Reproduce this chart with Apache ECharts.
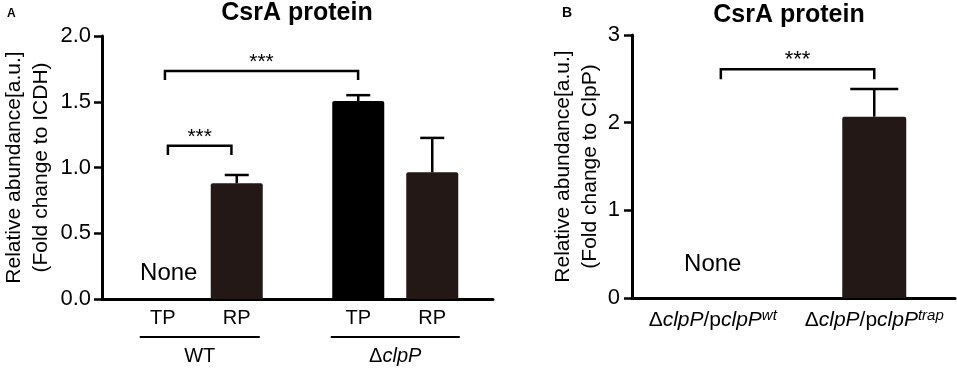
<!DOCTYPE html>
<html>
<head>
<meta charset="utf-8">
<title>CsrA protein</title>
<script src="https://cdn.jsdelivr.net/npm/echarts@6/dist/echarts.min.js"></script>
<style>
  html, body { margin: 0; padding: 0; background: #fff; }
  #chart { width: 957px; height: 369px; }
</style>
</head>
<body>
<div id="chart"></div>
<script>
// Panel A: CsrA relative to ICDH, trap pulldown (TP) vs regular pulldown (RP)
const groupsA = ['WT', 'ΔclpP'];
const tpMeanA = [0, 1.505];
const tpErrA = [0, 0.045];
const rpMeanA = [0.88, 0.963];
const rpErrA = [0.063, 0.262];
const yTicksA = [0, 0.5, 1.0, 1.5, 2.0];

// Panel B: CsrA relative to ClpP
const allelesB = ['wt', 'trap'];
const meanB = [0, 2.068];
const errB = [0, 0.316];
const yTicksB = [0, 1, 2, 3];

// significance brackets: [fromCat, fromShift, toCat, toShift, barY, legY, label]
// shift = fraction of the category band
const bracketsA = [
  [0, -0.178, 1, -0.19, 1.734, 1.665, '***'],
  [0, -0.163, 0, 0.162, 1.166, 1.095, '***']
];
const bracketsB = [
  [0, 0.05, 1, 0, 2.608, 2.494, '***']
];

const FONT = '"Liberation Sans", Arial, Helvetica, sans-serif';
const INK = '#000';
const BROWN = '#231815';

const barWA = 52, gapA = 22;           // bar width / gap between TP and RP (px)
const shiftA = (barWA + gapA) / 2;     // bar center offset from category center
const barWB = 64;

const chart = echarts.init(document.getElementById('chart'));

function errorSeries(idx, means, errs, shift, capW) {
  return {
    type: 'custom',
    xAxisIndex: idx,
    yAxisIndex: idx,
    silent: true,
    z: 4,
    data: means.map((m, i) => [i, m, errs[i]]),
    renderItem: function (params, api) {
      const err = api.value(2);
      if (!err) return { type: 'group', children: [] };
      const base = api.coord([api.value(0), api.value(1)]);
      const top = api.coord([api.value(0), api.value(1) + err]);
      const x = base[0] + shift;
      const st = { stroke: INK, lineWidth: 2.5 };
      return {
        type: 'group',
        children: [
          { type: 'line', shape: { x1: x, y1: base[1], x2: x, y2: top[1] }, style: st },
          { type: 'line', shape: { x1: x - capW / 2, y1: top[1], x2: x + capW / 2, y2: top[1] }, style: st }
        ]
      };
    }
  };
}

function bracketSeries(idx, rows, starSize) {
  return {
    type: 'custom',
    xAxisIndex: idx,
    yAxisIndex: idx,
    silent: true,
    clip: false,
    z: 5,
    data: rows.map(r => r.slice(0, 6)),
    renderItem: function (params, api) {
      const band = api.size([1, 0])[0];
      const x1 = api.coord([api.value(0), 0])[0] + api.value(1) * band;
      const x2 = api.coord([api.value(2), 0])[0] + api.value(3) * band;
      const yTop = api.coord([0, api.value(4)])[1];
      const yLeg = api.coord([0, api.value(5)])[1];
      return {
        type: 'group',
        children: [
          {
            type: 'polyline',
            shape: { points: [[x1, yLeg], [x1, yTop], [x2, yTop], [x2, yLeg]] },
            style: { stroke: INK, lineWidth: 2.5, fill: null }
          },
          {
            type: 'text',
            x: (x1 + x2) / 2,
            y: yTop + 2,
            style: {
              text: rows[params.dataIndex][6],
              fill: INK,
              font: starSize + 'px ' + FONT,
              align: 'center',
              verticalAlign: 'bottom'
            }
          }
        ]
      };
    }
  };
}

function valueAxis(idx, ticks, name, gap, margin, fmt) {
  return {
    type: 'value',
    gridIndex: idx,
    min: ticks[0],
    max: ticks[ticks.length - 1],
    interval: ticks[1] - ticks[0],
    name: name,
    nameLocation: 'middle',
    nameGap: gap,
    nameTextStyle: { fontSize: 21, lineHeight: 27, color: INK, fontFamily: FONT },
    axisLine: { show: true, lineStyle: { color: INK, width: 3 } },
    axisTick: { show: true, length: 8, lineStyle: { color: INK, width: 2.5 } },
    axisLabel: { fontSize: 22, margin: margin, color: INK, fontFamily: FONT, formatter: fmt },
    splitLine: { show: false }
  };
}

const txt = { color: INK, fontFamily: FONT, align: 'center' };

const option = {
  animation: false,
  backgroundColor: '#fff',
  textStyle: { fontFamily: FONT },
  title: [
    { text: 'CsrA protein', left: 297, top: 1, textAlign: 'center', padding: 0,
      textStyle: { fontSize: 25, fontWeight: 'bold', color: INK, fontFamily: FONT } },
    { text: 'CsrA protein', left: 789, top: 3, textAlign: 'center', padding: 0,
      textStyle: { fontSize: 25, fontWeight: 'bold', color: INK, fontFamily: FONT } }
  ],
  graphic: [
    { type: 'text', left: 7, top: 8, style: { text: 'A', font: 'bold 12px ' + FONT, fill: INK } },
    { type: 'text', left: 562, top: 6, style: { text: 'B', font: 'bold 14px ' + FONT, fill: INK } }
  ],
  grid: [
    { left: 99, top: 36, width: 394, height: 263 },
    { left: 632, top: 35, width: 323, height: 263 }
  ],
  xAxis: [
    {
      type: 'category',
      gridIndex: 0,
      data: groupsA,
      axisLine: { lineStyle: { color: INK, width: 3 } },
      axisTick: { alignWithLabel: true, length: 6, lineStyle: { color: INK, width: 2.5 } },
      axisLabel: {
        interval: 0,
        margin: 8,
        formatter: function (v) {
          const grp = v === 'WT' ? '{g|WT}' : '{g|Δ}{gi|clpP}';
          return '{t|TP}{t|RP}\n{' + (v === 'WT' ? 'lw' : 'lc') + '| }\n' + grp;
        },
        rich: {
          t: Object.assign({ width: shiftA * 2, fontSize: 20, lineHeight: 22 }, txt),
          lw: { width: 120, height: 2, lineHeight: 16, fontSize: 2, backgroundColor: INK, align: 'center' },
          lc: { width: 129, height: 2, lineHeight: 16, fontSize: 2, backgroundColor: INK, align: 'center' },
          g: Object.assign({ fontSize: 20, lineHeight: 22 }, txt),
          gi: Object.assign({ fontSize: 20, lineHeight: 22, fontStyle: 'italic' }, txt)
        }
      }
    },
    {
      type: 'category',
      gridIndex: 1,
      data: allelesB,
      axisLine: { lineStyle: { color: INK, width: 3 } },
      axisTick: { alignWithLabel: true, length: 6, lineStyle: { color: INK, width: 2.5 } },
      axisLabel: {
        interval: 0,
        margin: 10,
        formatter: v => '{n|Δ}{i|clpP}{n|/p}{i|clpP}{s|' + v + '}',
        rich: {
          n: Object.assign({ fontSize: 21, lineHeight: 24 }, txt),
          i: Object.assign({ fontSize: 21, lineHeight: 24, fontStyle: 'italic' }, txt),
          s: Object.assign({ fontSize: 15, lineHeight: 24, fontStyle: 'italic', verticalAlign: 'top' }, txt)
        }
      }
    }
  ],
  yAxis: [
    valueAxis(0, yTicksA, 'Relative abundance[a.u.]\n(Fold change to ICDH)', 47, 11, v => v.toFixed(1)),
    valueAxis(1, yTicksB, 'Relative abundance[a.u.]\n(Fold change to ClpP)', 28, 12, v => String(v))
  ],
  series: [
    {
      name: 'TP',
      type: 'bar',
      xAxisIndex: 0,
      yAxisIndex: 0,
      data: tpMeanA,
      barWidth: barWA,
      barGap: (gapA / barWA * 100) + '%',
      itemStyle: { color: INK, borderRadius: [2, 2, 0, 0] },
      label: {
        show: true, position: 'top', distance: 14, offset: [6, 0],
        fontSize: 24, color: INK, fontFamily: FONT,
        formatter: p => (p.value === 0 ? 'None' : '')
      }
    },
    {
      name: 'RP',
      type: 'bar',
      xAxisIndex: 0,
      yAxisIndex: 0,
      data: rpMeanA,
      barWidth: barWA,
      barGap: (gapA / barWA * 100) + '%',
      itemStyle: { color: BROWN, borderRadius: [2, 2, 0, 0] }
    },
    errorSeries(0, tpMeanA, tpErrA, -shiftA, 24),
    errorSeries(0, rpMeanA, rpErrA, shiftA, 24),
    bracketSeries(0, bracketsA, 21),
    {
      name: 'B',
      type: 'bar',
      xAxisIndex: 1,
      yAxisIndex: 1,
      data: meanB,
      barWidth: barWB,
      itemStyle: { color: BROWN, borderRadius: [2, 2, 0, 0] },
      label: {
        show: true, position: 'top', distance: 22,
        fontSize: 24, color: INK, fontFamily: FONT,
        formatter: p => (p.value === 0 ? 'None' : '')
      }
    },
    errorSeries(1, meanB, errB, 0, 48),
    bracketSeries(1, bracketsB, 22)
  ]
};

chart.setOption(option);
window.addEventListener('resize', () => chart.resize());
</script>
</body>
</html>
